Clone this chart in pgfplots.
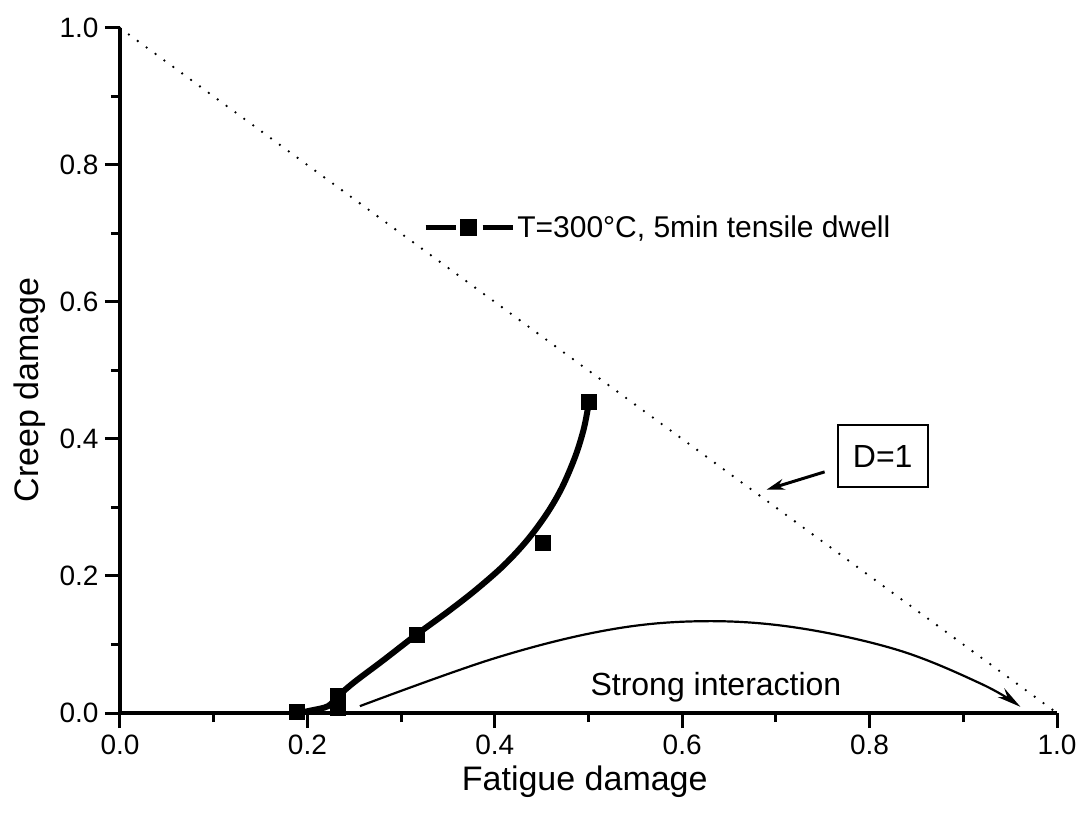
\documentclass[border=0pt]{standalone}
\usepackage{pgfplots}
\pgfplotsset{compat=1.18}
\usepackage{fontspec}
\setmainfont{Liberation Sans}
\usetikzlibrary{arrows.meta}
\begin{document}
\begin{tikzpicture}
\path[use as bounding box] (-120bp,-115bp) rectangle (965bp,713bp);
\begin{axis}[
  at={(0,0)}, anchor=origin,
  scale only axis, width=937bp, height=685bp,
  xmin=0, xmax=1, ymin=0, ymax=1,
  axis lines*=left,
  axis line style={line width=4bp},
  xtick={0,0.2,0.4,0.6,0.8,1.0},
  ytick={0,0.2,0.4,0.6,0.8,1.0},
  minor tick num=1,
  tick align=outside,
  major tick length=15bp, minor tick length=9bp,
  every tick/.style={black, line width=3bp},
  tick label style={font=\fontsize{28bp}{33bp}\selectfont},
  xticklabel style={yshift=-3bp},
  yticklabel style={xshift=-3bp},
  /pgf/number format/.cd, fixed, fixed zerofill, precision=1, assume math mode=true,
  /pgfplots/.cd,
  xlabel={Fatigue damage}, ylabel={Creep damage},
  label style={font=\fontsize{34bp}{40bp}\selectfont},
  xlabel style={at={(axis description cs:0.496,-0.1)}, anchor=center},
  ylabel style={at={(axis description cs:-0.096,0.472)}, anchor=center, rotate=0},
  legend style={at={(axis cs:0.323,0.709)}, anchor=west, draw=none, fill=none,
    font=\fontsize{30bp}{36bp}\selectfont, inner sep=0pt},
  legend cell align=left,
  clip=false,
]
% D=1 line
\addplot[forget plot, line width=2.6bp, dash pattern=on 0bp off 11bp, line cap=round]
  coordinates {(0,1) (1,0)};
% fitted curve
\addplot[forget plot, smooth, tension=0.55, line width=6bp]
  coordinates {(0.19,0.0) (0.205,0.004) (0.222,0.01) (0.233,0.025)
  (0.25,0.045) (0.281,0.077) (0.316,0.114) (0.35,0.148) (0.38,0.18)
  (0.41,0.216) (0.435,0.253) (0.456,0.292) (0.472,0.33) (0.486,0.375)
  (0.495,0.415) (0.5,0.45)};
% data
\addplot[only marks, mark=square*, mark size=7.5bp,
  legend image code/.code={
    \draw[line width=5.5bp] (0bp,0bp) -- (30bp,0bp);
    \draw[line width=5.5bp] (57bp,0bp) -- (87bp,0bp);
    \fill (35bp,-8bp) rectangle (51bp,8bp);
  }]
  coordinates {(0.189,0.002) (0.232,0.008) (0.232,0.025) (0.317,0.114) (0.451,0.248) (0.5,0.455)};
\addlegendentry{T=300°C, 5min tensile dwell}
% strong interaction arc
\addplot[forget plot, smooth, tension=0.6, line width=2.2bp, -{Stealth[length=24bp,width=11bp]}]
  coordinates {(0.256,0.010) (0.4,0.08) (0.52,0.121) (0.62,0.134) (0.72,0.125)
  (0.83,0.092) (0.92,0.042) (0.961,0.009)};
\node[font=\fontsize{32bp}{38bp}\selectfont] at (axis cs:0.636,0.038) {Strong interaction};
\node[draw, line width=2bp, minimum width=90bp, minimum height=62bp, inner sep=0pt,
  font=\fontsize{32bp}{38bp}\selectfont] at (axis cs:0.814,0.375) {D=1};
\draw[line width=3bp, -{Stealth[length=18bp,width=11bp]}] (axis cs:0.752,0.352) -- (axis cs:0.690,0.326);
\end{axis}
\end{tikzpicture}
\end{document}
